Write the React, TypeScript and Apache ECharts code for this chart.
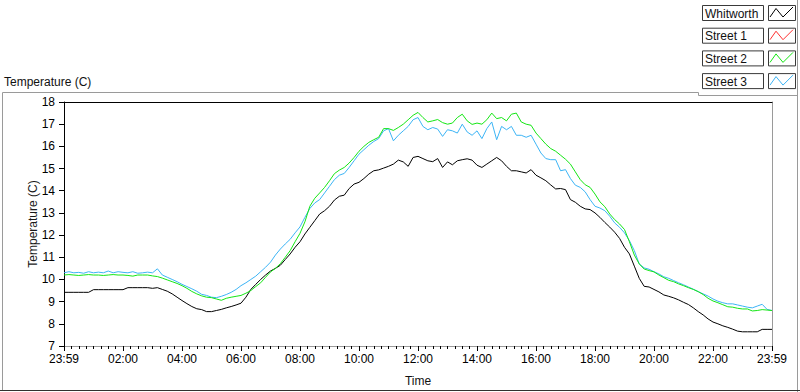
import React, { useEffect, useRef } from "react";
import * as echarts from "echarts";

const SERIES_NAMES = ["Whitworth", "Street 1", "Street 2", "Street 3"];
const SERIES_COLORS = ["#000000", "#ff3030", "#14e614", "#3cb4f5"];
const X_TICK_LABELS = ["23:59", "02:00", "04:00", "06:00", "08:00", "10:00", "12:00", "14:00", "16:00", "18:00", "20:00", "22:00", "23:59"];
const Y_MIN = 7;
const Y_MAX = 18;
const STEP_MIN = 10; // minutes between samples, first sample at 23:59

const WHITWORTH = [
  9.42, 9.42, 9.42, 9.42, 9.42, 9.42, 9.54, 9.54, 9.54, 9.54, 9.54, 9.54,
  9.54, 9.63, 9.63, 9.63, 9.63, 9.63, 9.6, 9.63, 9.55, 9.47, 9.35, 9.2,
  9.05, 8.91, 8.78, 8.68, 8.64, 8.55, 8.55, 8.6, 8.65, 8.72, 8.78, 8.85,
  8.93, 9.2, 9.55, 9.78, 10.0, 10.2, 10.38, 10.5, 10.64, 10.9, 11.15, 11.45,
  11.7, 12.05, 12.35, 12.65, 12.95, 13.1, 13.3, 13.58, 13.75, 13.8, 14.1, 14.3,
  14.38, 14.55, 14.75, 14.9, 14.94, 15.02, 15.1, 15.2, 15.38, 15.3, 15.1, 15.5,
  15.55, 15.45, 15.35, 15.31, 15.45, 15.05, 15.3, 15.17, 15.35, 15.4, 15.44, 15.38,
  15.15, 15.05, 15.2, 15.35, 15.5, 15.35, 15.1, 14.9, 14.9, 14.85, 14.8, 14.95,
  14.7, 14.58, 14.45, 14.26, 14.08, 14.1, 14.05, 13.6, 13.48, 13.3, 13.18, 13.15,
  13.0, 12.8, 12.57, 12.36, 12.13, 11.85, 11.45, 11.15, 10.6, 10.05, 9.69, 9.66,
  9.55, 9.44, 9.3, 9.24, 9.17, 9.08, 8.97, 8.87, 8.72, 8.55, 8.4, 8.22,
  8.08, 8.0, 7.91, 7.84, 7.76, 7.67, 7.64, 7.64, 7.64, 7.64, 7.75, 7.75,
  7.75,
];

const STREET_1: number[] = [];

const STREET_2 = [
  10.2, 10.22, 10.2, 10.18, 10.2, 10.22, 10.2, 10.2, 10.18, 10.2, 10.22, 10.2,
  10.2, 10.18, 10.15, 10.2, 10.2, 10.2, 10.16, 10.13, 10.06, 9.98, 9.9, 9.82,
  9.72, 9.6, 9.46, 9.35, 9.26, 9.2, 9.18, 9.12, 9.06, 9.15, 9.2, 9.24,
  9.28, 9.38, 9.5, 9.68, 9.85, 10.1, 10.34, 10.5, 10.71, 11.0, 11.3, 11.7,
  12.08, 12.6, 13.3, 13.66, 13.9, 14.15, 14.45, 14.77, 14.93, 15.05, 15.25, 15.5,
  15.78, 16.0, 16.18, 16.3, 16.41, 16.8, 16.8, 16.72, 16.85, 17.0, 17.2, 17.4,
  17.53, 17.3, 17.1, 17.15, 17.21, 17.07, 17.0, 17.05, 17.3, 17.45, 17.15, 16.99,
  17.05, 17.0, 17.2, 17.5, 17.25, 17.3, 17.15, 17.45, 17.5, 17.1, 17.0, 16.95,
  16.6, 16.35, 16.1, 15.9, 15.78, 15.6, 15.42, 15.2, 14.85, 14.5, 14.27, 14.15,
  13.85, 13.5, 13.28, 12.95, 12.7, 12.5, 12.25, 11.7, 11.1, 10.7, 10.47, 10.4,
  10.34, 10.2, 10.08, 9.96, 9.9, 9.8, 9.72, 9.63, 9.55, 9.45, 9.32, 9.15,
  9.03, 8.95, 8.86, 8.77, 8.75, 8.7, 8.67, 8.67, 8.58, 8.6, 8.64, 8.62,
  8.6,
];

const STREET_3 = [
  10.3, 10.35, 10.3, 10.32, 10.28, 10.35, 10.3, 10.33, 10.3, 10.38, 10.3, 10.35,
  10.32, 10.3, 10.35, 10.28, 10.3, 10.33, 10.3, 10.48, 10.2, 10.1, 10.0, 9.9,
  9.78, 9.68, 9.58, 9.47, 9.33, 9.28, 9.2, 9.18, 9.24, 9.32, 9.42, 9.55,
  9.72, 9.85, 10.0, 10.15, 10.35, 10.55, 10.78, 11.1, 11.37, 11.6, 11.81, 12.1,
  12.37, 12.8, 13.2, 13.45, 13.6, 13.9, 14.2, 14.5, 14.7, 14.78, 15.05, 15.35,
  15.65, 15.85, 16.05, 16.22, 16.35, 16.7, 16.8, 16.25, 16.5, 16.7, 16.9, 17.2,
  17.3, 16.9, 16.75, 16.85, 16.78, 16.45, 16.75, 16.7, 16.6, 17.0, 16.65, 16.5,
  16.7, 16.35, 16.8, 17.1, 16.3, 16.9, 16.75, 16.9, 16.5, 16.5, 16.41, 16.5,
  16.1, 15.7, 15.45, 15.4, 15.4, 14.9, 14.95, 14.55, 14.25, 14.15, 13.95, 13.6,
  13.3, 13.22, 13.1, 12.85, 12.55, 12.35, 12.1, 11.75, 11.3, 10.7, 10.52, 10.46,
  10.35, 10.25, 10.12, 10.05, 9.95, 9.85, 9.76, 9.66, 9.56, 9.45, 9.35, 9.25,
  9.12, 9.02, 8.95, 8.9, 8.9, 8.85, 8.8, 8.75, 8.72, 8.8, 8.88, 8.65,
  8.6,
];

const SERIES_VALUES = [WHITWORTH, STREET_1, STREET_2, STREET_3];
const FONT = "'Liberation Sans', Arial, sans-serif";

export default function App() {
  const ref = useRef<HTMLDivElement>(null);

  useEffect(() => {
    if (!ref.current) return;
    const chart = echarts.init(ref.current, undefined, { renderer: "svg" });
    const xMax = (X_TICK_LABELS.length - 1) * 120;

    const legendEls: any[] = [];
    SERIES_NAMES.forEach((name, i) => {
      const y0 = 5 + i * 22.7;
      legendEls.push(
        { type: "rect", shape: { x: 702.5, y: y0 + 0.5, width: 61, height: 15 }, style: { fill: "#fff", stroke: "#3a3a3a", lineWidth: 1 } },
        { type: "text", x: 705, y: y0 + 8.5, style: { text: name, fill: "#111", font: `12px ${FONT}`, verticalAlign: "middle", align: "left" } },
        { type: "rect", shape: { x: 768.5, y: y0 + 0.5, width: 27, height: 15 }, style: { fill: "#fff", stroke: "#3a3a3a", lineWidth: 1 } },
        { type: "polyline", shape: { points: [[770, y0 + 12], [776, y0 + 3.5], [783, y0 + 12], [793, y0 + 2]] }, style: { stroke: SERIES_COLORS[i], lineWidth: 1, fill: null } }
      );
    });

    const option: any = {
      animation: false,
      backgroundColor: "#ffffff",
      textStyle: { fontFamily: FONT },
      title: {
        text: "Temperature (C)",
        left: 4,
        top: 76,
        padding: 0,
        textStyle: { fontSize: 12, fontWeight: "normal", color: "#111", fontFamily: FONT },
      },
      grid: { left: 64, right: 28, top: 102, bottom: 39, show: false },
      xAxis: [
        {
          type: "value",
          position: "bottom",
          min: 0,
          max: xMax,
          interval: 120,
          name: "Time",
          nameLocation: "middle",
          nameGap: 29,
          nameMoveOverlap: false,
          nameTextStyle: { fontSize: 12, color: "#111", fontFamily: FONT },
          axisLine: { show: true, onZero: false, lineStyle: { color: "#9a9a9a", width: 1 } },
          axisTick: { show: true, length: 5, lineStyle: { color: "#000" } },
          minorTick: { show: true, splitNumber: 8, length: 3, lineStyle: { color: "#000" } },
          axisLabel: {
            show: true,
            margin: 7,
            fontSize: 12,
            color: "#000",
            fontFamily: FONT,
            showMinLabel: true,
            showMaxLabel: true,
            formatter: (v: number) => X_TICK_LABELS[Math.round(v / 120)] ?? "",
          },
          splitLine: { show: false },
          minorSplitLine: { show: false },
        },
        {
          type: "value",
          position: "top",
          min: 0,
          max: xMax,
          axisLine: { show: true, onZero: false, lineStyle: { color: "#000", width: 1 } },
          axisTick: { show: false },
          axisLabel: { show: false },
          splitLine: { show: false },
        },
      ],
      yAxis: [
        {
          type: "value",
          position: "left",
          min: Y_MIN,
          max: Y_MAX,
          interval: 1,
          name: "Temperature (C)",
          nameLocation: "middle",
          nameGap: 25,
          nameMoveOverlap: false,
          nameTextStyle: { fontSize: 12, color: "#1a1a1a", fontFamily: FONT },
          axisLine: { show: true, onZero: false, lineStyle: { color: "#000", width: 1 } },
          axisTick: { show: true, length: 5, lineStyle: { color: "#000" } },
          axisLabel: { show: true, margin: 9, fontSize: 12, color: "#000", fontFamily: FONT },
          splitLine: { show: false },
        },
        {
          type: "value",
          position: "right",
          min: Y_MIN,
          max: Y_MAX,
          axisLine: { show: true, onZero: false, lineStyle: { color: "#9a9a9a", width: 1 } },
          axisTick: { show: false },
          axisLabel: { show: false },
          splitLine: { show: false },
        },
      ],
      series: SERIES_NAMES.map((name, i) => ({
        name,
        type: "line",
        xAxisIndex: 0,
        yAxisIndex: 0,
        showSymbol: false,
        symbol: "none",
        z: i === 2 ? 4 : 3,
        lineStyle: { color: SERIES_COLORS[i], width: 1 },
        itemStyle: { color: SERIES_COLORS[i] },
        data: SERIES_VALUES[i].map((v, k) => [k * STEP_MIN, v]),
      })),
      graphic: [
        { type: "polyline", shape: { points: [[2.5, 390], [2.5, 92.5], [698.5, 92.5], [698.5, 95.5], [797.5, 95.5]] }, style: { stroke: "#9a9a9a", lineWidth: 1, fill: null } },
        { type: "line", shape: { x1: 797.5, y1: 0, x2: 797.5, y2: 392 }, style: { stroke: "#9a9a9a", lineWidth: 1 } },
        { type: "line", shape: { x1: 0, y1: 390.5, x2: 800, y2: 390.5 }, style: { stroke: "#303030", lineWidth: 1 } },
        ...legendEls,
      ],
    };

    chart.setOption(option);
    return () => chart.dispose();
  }, []);

  return <div ref={ref} style={{ position: "absolute", left: 0, top: 0, width: 800, height: 392 }} />;
}
